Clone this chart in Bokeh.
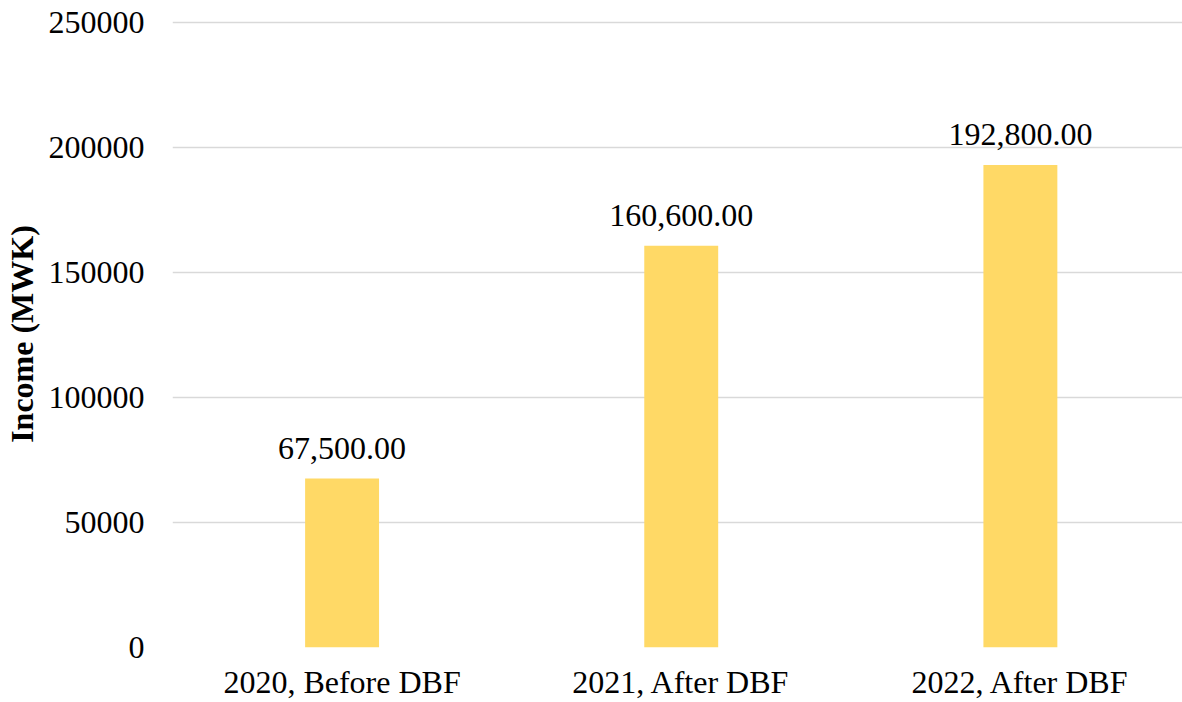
from bokeh.plotting import figure
from bokeh.models import ColumnDataSource, Range1d, FixedTicker, LabelSet, NumeralTickFormatter
from bokeh.embed import file_html
from bokeh.resources import INLINE

# Income per period
categories = ["2020, Before DBF", "2021, After DBF", "2022, After DBF"]
income = [67500, 160600, 192800]
y_ticks = [0, 50000, 100000, 150000, 200000, 250000]

positions = list(range(len(categories)))
labels = [f"{v:,.2f}" for v in income]

source = ColumnDataSource(data=dict(x=positions, top=income, label=labels))

FONT = "'Liberation Serif', 'Times New Roman', serif"

p = figure(
    width=1182, height=702,
    x_range=Range1d(-0.5, 2.478),
    y_range=Range1d(0, 250600),
    output_backend="svg", toolbar_location=None,
    min_border_left=172, min_border_right=0,
    min_border_top=20, min_border_bottom=55,
)
p.outline_line_color = None
p.background_fill_color = "white"
p.border_fill_color = "white"

p.vbar(x="x", top="top", width=0.218, source=source,
       fill_color="#FFD966", line_color=None)

p.add_layout(LabelSet(x="x", y="top", text="label", source=source,
                      text_align="center", text_baseline="alphabetic",
                      y_offset=20, text_font=FONT, text_font_size="32px",
                      text_color="#000000"))

# x axis: category names under each bar
p.xaxis.ticker = FixedTicker(ticks=positions)
p.xaxis.major_label_overrides = {i: c for i, c in enumerate(categories)}
p.xaxis.axis_line_color = None
p.xaxis.major_tick_line_color = None
p.xaxis.minor_tick_line_color = None
p.xaxis.major_tick_out = 0
p.xaxis.major_tick_in = 0
p.xaxis.major_label_standoff = 16
p.xaxis.major_label_text_font = FONT
p.xaxis.major_label_text_font_size = "32px"
p.xaxis.major_label_text_color = "#000000"
p.xgrid.grid_line_color = None

# y axis
p.yaxis.ticker = FixedTicker(ticks=y_ticks)
p.yaxis.formatter = NumeralTickFormatter(format="0")
p.yaxis.axis_line_color = None
p.yaxis.major_tick_line_color = None
p.yaxis.minor_tick_line_color = None
p.yaxis.major_tick_out = 0
p.yaxis.major_tick_in = 0
p.yaxis.major_label_standoff = 28
p.yaxis.major_label_text_font = FONT
p.yaxis.major_label_text_font_size = "32px"
p.yaxis.major_label_text_color = "#000000"
p.yaxis.axis_label = "Income (MWK)"
p.yaxis.axis_label_text_font = FONT
p.yaxis.axis_label_text_font_style = "bold"
p.yaxis.axis_label_text_font_size = "32px"
p.yaxis.axis_label_text_color = "#000000"
p.yaxis.axis_label_standoff = 6
p.ygrid.ticker = FixedTicker(ticks=y_ticks)
p.ygrid.grid_line_color = "#D9D9D9"
p.ygrid.grid_line_width = 1.3

open("out.html", "w").write(file_html(p, INLINE))
